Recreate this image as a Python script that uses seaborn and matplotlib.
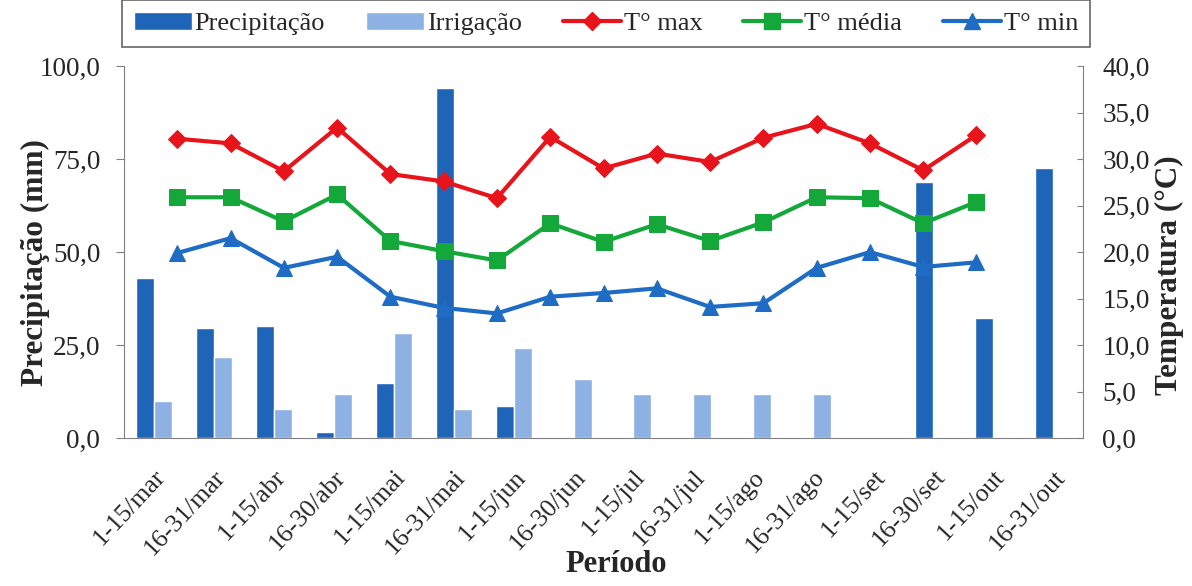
import pandas as pd
import numpy as np
import matplotlib
matplotlib.use('Agg')
import matplotlib.pyplot as plt
from matplotlib.ticker import FuncFormatter, MultipleLocator, FixedLocator
from matplotlib.patches import Patch
from matplotlib.lines import Line2D
import seaborn as sns

# Dados
periodos = ['1-15/mar', '16-31/mar', '1-15/abr', '16-30/abr', '1-15/mai', '16-31/mai',
            '1-15/jun', '16-30/jun', '1-15/jul', '16-31/jul', '1-15/ago', '16-31/ago',
            '1-15/set', '16-30/set', '1-15/out', '16-31/out']
precipitacao = [43.0, 29.6, 30.1, 1.6, 14.8, 94.1, 8.6, 0, 0, 0, 0, 0, 0, 68.8, 32.3, 72.6]
irrigacao = [10.0, 21.8, 7.8, 11.8, 28.2, 7.8, 24.2, 15.9, 11.8, 11.8, 11.8, 11.8, 0, 0, 0, 0]
t_max = [32.2, 31.7, 28.7, 33.4, 28.4, 27.6, 25.8, 32.4, 29.0, 30.6, 29.7, 32.3, 33.8, 31.7, 28.8, 32.6]
t_med = [25.9, 25.9, 23.3, 26.2, 21.2, 20.1, 19.1, 23.1, 21.1, 23.0, 21.2, 23.2, 25.9, 25.8, 23.1, 25.4]
t_min = [19.9, 21.5, 18.3, 19.5, 15.2, 14.0, 13.4, 15.2, 15.6, 16.1, 14.1, 14.5, 18.3, 20.0, 18.4, 18.9]

cor_prec = '#1f65b7'
cor_irr = '#8eb1e3'
cor_max = '#e8141c'
cor_med = '#14a83b'
cor_min = '#1f6cc4'
cinza = '#808080'

sns.set_style('white')
plt.rcParams['font.family'] = ['Liberation Serif', 'DejaVu Serif']

df_barras = pd.DataFrame({
    'Período': periodos * 2,
    'valor': precipitacao + irrigacao,
    'Série': ['Precipitação'] * len(periodos) + ['Irrigação'] * len(periodos),
})

fig = plt.figure(figsize=(11.92, 5.86), dpi=100)
ax = fig.add_axes([0.104, 0.2526, 0.8046, 0.6344])

sns.barplot(data=df_barras, x='Período', y='valor', hue='Série',
            palette=[cor_prec, cor_irr], width=0.6, saturation=1,
            ax=ax, legend=False)
ax.set_ylim(0, 100)
ax.set_xlim(-0.5, len(periodos) - 0.5)
ax.yaxis.set_major_locator(MultipleLocator(25))
fmt = FuncFormatter(lambda v, p: f'{v:.1f}'.replace('.', ','))
ax.yaxis.set_major_formatter(fmt)
ax.set_ylabel('Precipitação (mm)', fontsize=22.5, fontweight='bold')
ax.yaxis.set_label_coords(-0.077, 0.473)
ax.set_xlabel('Período', fontsize=22, fontweight='bold')
ax.xaxis.set_label_coords(0.513, -0.30)
ax.set_xticks(range(len(periodos)))
ax.set_xticklabels(periodos, rotation=47, ha='right', rotation_mode='anchor', fontsize=18.5)
ax.xaxis.set_minor_locator(FixedLocator(np.arange(-0.5, len(periodos), 1)))
ax.tick_params(axis='x', which='major', length=0, pad=20)
ax.tick_params(axis='x', which='minor', length=5, color=cinza, direction='out')
ax.tick_params(axis='y', labelsize=19.5, length=6, pad=11, color=cinza, direction='out', left=True)
for s in ['top', 'right']:
    ax.spines[s].set_visible(False)
for s in ['left', 'bottom']:
    ax.spines[s].set_color(cinza)

# eixo secundário de temperatura
ax_t = ax.twinx()
ax_t.set_ylim(0, 40)
ax_t.yaxis.set_major_locator(MultipleLocator(5))
ax_t.yaxis.set_major_formatter(fmt)
ax_t.tick_params(axis='y', labelsize=19.5, length=4, pad=14, color=cinza, direction='in', right=True)
for s in ['top', 'left', 'bottom']:
    ax_t.spines[s].set_visible(False)
ax_t.spines['right'].set_color(cinza)

# linhas com eixo horizontal secundário
ax_l = ax_t.twiny()
pos = np.arange(len(t_max))
sns.lineplot(x=pos, y=t_max, ax=ax_l, color=cor_max, marker='D', markersize=9,
             markeredgecolor=cor_max, linewidth=3)
sns.lineplot(x=pos, y=t_med, ax=ax_l, color=cor_med, marker='s', markersize=11,
             markeredgecolor=cor_med, linewidth=3)
sns.lineplot(x=pos, y=t_min, ax=ax_l, color=cor_min, marker='^', markersize=11,
             markeredgecolor=cor_min, linewidth=3)
ax_l.set_xlim(-1, 17)
ax_l.set_ylim(0, 40)
ax_l.xaxis.set_visible(False)
ax_l.set_ylabel('')
for s in ax_l.spines.values():
    s.set_visible(False)
ax_t.set_ylabel('Temperatura (°C)', fontsize=22.5, fontweight='bold')
ax_t.yaxis.set_label_coords(1.075, 0.438)

handles = [
    Patch(facecolor=cor_prec, label='Precipitação'),
    Patch(facecolor=cor_irr, label='Irrigação'),
    Line2D([], [], color=cor_max, marker='D', markersize=9, linewidth=3, label='T° max'),
    Line2D([], [], color=cor_med, marker='s', markersize=11, linewidth=3, label='T° média'),
    Line2D([], [], color=cor_min, marker='^', markersize=11, linewidth=3, label='T° min'),
]
leg = fig.legend(handles=handles, loc='lower left', ncol=5, mode='expand',
                 bbox_to_anchor=(122 / 1192, 1 - 47 / 586, 968 / 1192, 0.08),
                 borderaxespad=0, fontsize=19, frameon=True, fancybox=False,
                 handlelength=2.2, handletextpad=0.1, borderpad=0.45, columnspacing=1.0)
leg.get_frame().set_edgecolor('#404040')
leg.get_frame().set_linewidth(1.2)

fig.savefig('out.png', dpi=100)
